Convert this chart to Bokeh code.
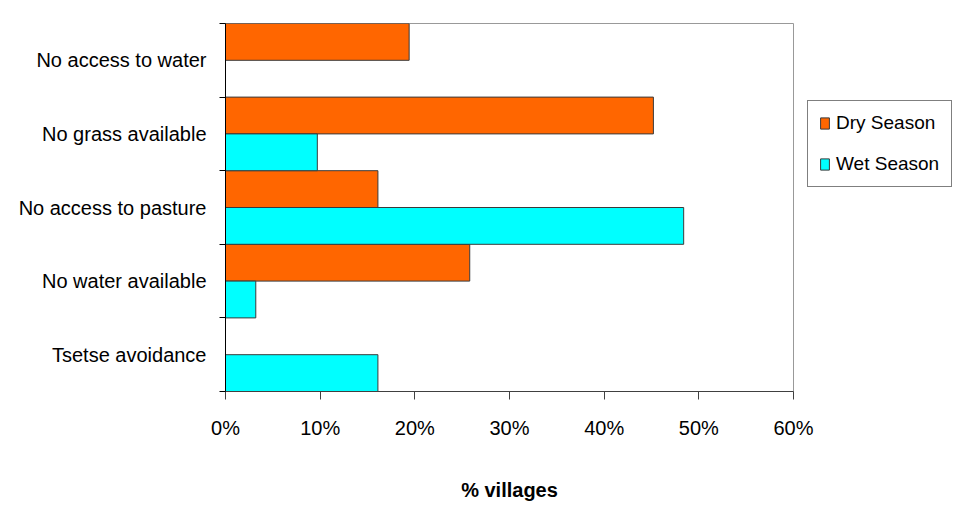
from bokeh.plotting import figure
from bokeh.models import (ColumnDataSource, Range1d, FixedTicker, PrintfTickFormatter,
                          Legend, LegendItem)
from bokeh.embed import file_html
from bokeh.resources import INLINE

categories = ["No access to water", "No grass available", "No access to pasture",
              "No water available", "Tsetse avoidance"]
dry_season = [19.4, 45.2, 16.1, 25.8, 0.0]
wet_season = [0.0, 9.7, 48.4, 3.2, 16.1]
x_ticks = [0, 10, 20, 30, 40, 50, 60]

FONT = "Liberation Sans"
n = len(categories)
centers = [n - i - 0.5 for i in range(n)]

p = figure(frame_width=568, frame_height=368, x_range=Range1d(0, 60), y_range=Range1d(0, n),
           output_backend="svg", toolbar_location=None,
           min_border_left=225, min_border_right=160, min_border_top=23, min_border_bottom=111)

dry_src = ColumnDataSource(dict(
    y=[c + 0.25 for c, v in zip(centers, dry_season) if v > 0],
    right=[v for v in dry_season if v > 0]))
wet_src = ColumnDataSource(dict(
    y=[c - 0.25 for c, v in zip(centers, wet_season) if v > 0],
    right=[v for v in wet_season if v > 0]))

r1 = p.hbar(y="y", right="right", left=0, height=0.5, source=dry_src,
            fill_color="#FF6600", line_color="#3a3a3a", line_width=1)
r2 = p.hbar(y="y", right="right", left=0, height=0.5, source=wet_src,
            fill_color="#00FFFF", line_color="#3a3a3a", line_width=1)

p.xgrid.visible = False
p.ygrid.visible = False
p.outline_line_color = "#999999"
p.outline_line_width = 1
p.background_fill_color = "white"
p.border_fill_color = "white"

ya = p.yaxis[0]
ya.ticker = FixedTicker(ticks=centers, minor_ticks=list(range(n + 1)))
ya.major_label_overrides = {c: cat for c, cat in zip(centers, categories)}
ya.major_tick_out = 0
ya.major_tick_in = 0
ya.minor_tick_out = 6
ya.minor_tick_in = 0
ya.minor_tick_line_color = "black"
ya.axis_line_color = "black"
ya.major_label_standoff = 13
ya.major_label_text_font_size = "20px"
ya.major_label_text_font = FONT
ya.major_label_text_color = "black"

xa = p.xaxis[0]
xa.ticker = FixedTicker(ticks=x_ticks, minor_ticks=[])
xa.formatter = PrintfTickFormatter(format="%d%%")
xa.major_tick_out = 8
xa.major_tick_in = 0
xa.minor_tick_out = 0
xa.axis_line_color = "#404040"
xa.major_tick_line_color = "#404040"
xa.major_label_standoff = 17
xa.major_label_text_font_size = "20px"
xa.major_label_text_font = FONT
xa.major_label_text_color = "black"
xa.axis_label = "% villages"
xa.axis_label_text_font = FONT
xa.axis_label_text_font_size = "20px"
xa.axis_label_text_font_style = "bold"
xa.axis_label_text_color = "black"
xa.axis_label_standoff = 37

legend = Legend(items=[LegendItem(label="Dry Season", renderers=[r1]),
                       LegendItem(label="Wet Season", renderers=[r2])],
                location=(14, 204), orientation="vertical",
                border_line_color="black", border_line_width=1,
                glyph_width=11, glyph_height=14, label_standoff=6,
                label_text_font=FONT, label_text_font_size="19px",
                label_text_color="black",
                label_width=104, padding=11, spacing=19, margin=0)
p.add_layout(legend, "right")

open("out.html", "w").write(file_html(p, INLINE))
